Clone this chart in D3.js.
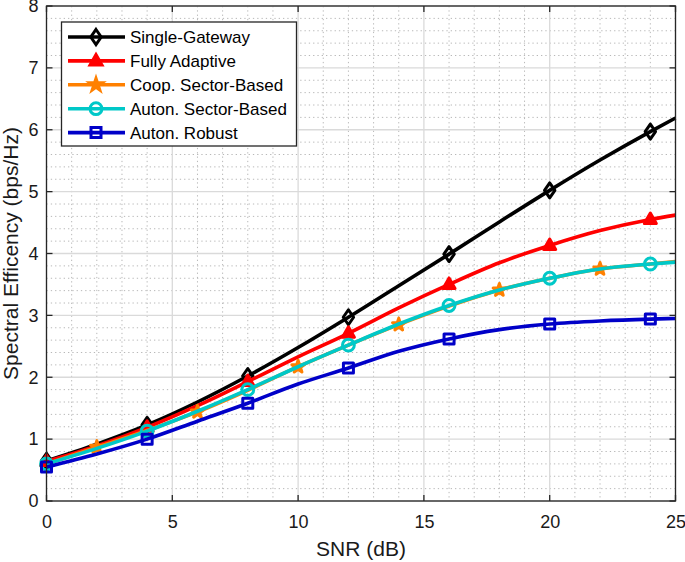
<!DOCTYPE html>
<html><head><meta charset="utf-8">
<script src="https://cdn.jsdelivr.net/npm/d3@7"></script>
<style>body{margin:0;background:#fff}svg{display:block;font-family:"Liberation Sans",Arial,sans-serif}</style>
</head><body><svg id="c" width="685" height="562"></svg>
<script>
const snr = [0,2,4,6,8,10,12,14,16,18,20,22,24,25];
const singleGateway = [0.65,0.92,1.23,1.60,2.02,2.48,2.97,3.48,3.99,4.51,5.02,5.51,5.97,6.19];
const fullyAdaptive = [0.64,0.89,1.19,1.54,1.93,2.33,2.71,3.12,3.50,3.85,4.13,4.37,4.55,4.62];
const coopSector   = [0.60,0.87,1.14,1.44,1.79,2.17,2.52,2.85,3.15,3.41,3.60,3.75,3.83,3.87];
const autonSector  = [0.60,0.85,1.13,1.45,1.80,2.17,2.52,2.86,3.16,3.41,3.60,3.75,3.83,3.86];
const autonRobust  = [0.55,0.76,1.00,1.29,1.58,1.89,2.15,2.42,2.62,2.77,2.86,2.91,2.94,2.95];
const seriesNames = ["Single-Gateway","Fully Adaptive","Coop. Sector-Based","Auton. Sector-Based","Auton. Robust"];
const xTicks = [0,5,10,15,20,25];
const yTicks = [0,1,2,3,4,5,6,7,8];

const series = [
  {name:seriesNames[0], values:singleGateway, color:"#000000", marker:"diamond", phase:0},
  {name:seriesNames[1], values:fullyAdaptive, color:"#ff0000", marker:"triangle", phase:0},
  {name:seriesNames[2], values:coopSector,   color:"#ff8000", marker:"star", phase:2},
  {name:seriesNames[3], values:autonSector,  color:"#00c8c8", marker:"circle", phase:0},
  {name:seriesNames[4], values:autonRobust,  color:"#0000c8", marker:"square", phase:0}
];

const svg = d3.select("#c");
const L=46.5, R=675.5, T=6, B=501;
const x = d3.scaleLinear().domain([0,25]).range([L,R]);
const y = d3.scaleLinear().domain([0,8]).range([B,T]);

// minor grid
const g = svg.append("g");
d3.range(0,25.01,1).filter(v=>v%5!==0).forEach(v=>{
  g.append("line").attr("x1",x(v)).attr("x2",x(v)).attr("y1",T).attr("y2",B)
   .attr("stroke","#b8b8b8").attr("stroke-width",1).attr("stroke-dasharray","1.3,3");
});
d3.range(0,40).map(i=>i*0.2).filter((v,i)=>i%5!==0).forEach(v=>{
  g.append("line").attr("x1",L).attr("x2",R).attr("y1",y(v)).attr("y2",y(v))
   .attr("stroke","#b8b8b8").attr("stroke-width",1).attr("stroke-dasharray","1.3,3");
});
// major grid
xTicks.forEach(v=>g.append("line").attr("x1",x(v)).attr("x2",x(v)).attr("y1",T).attr("y2",B).attr("stroke","#dadada").attr("stroke-width",1.3));
yTicks.forEach(v=>g.append("line").attr("x1",L).attr("x2",R).attr("y1",y(v)).attr("y2",y(v)).attr("stroke","#dadada").attr("stroke-width",1.3));

// axes
const ax = svg.append("g").attr("transform",`translate(0,${B})`)
  .call(d3.axisBottom(x).tickValues(xTicks).tickSize(0).tickPadding(14).tickFormat(d3.format("d")));
const ay = svg.append("g").attr("transform",`translate(${L},0)`)
  .call(d3.axisLeft(y).tickValues(yTicks).tickSize(0).tickPadding(8).tickFormat(d3.format("d")));
[ax,ay].forEach(a=>{a.select(".domain").remove(); a.selectAll("text").attr("font-size",18).attr("fill","#1a1a1a").attr("font-family","Liberation Sans, Arial, sans-serif");});

// inner ticks
const tk = svg.append("g").attr("stroke","#262626").attr("stroke-width",1.3);
xTicks.forEach(v=>{tk.append("line").attr("x1",x(v)).attr("x2",x(v)).attr("y1",B).attr("y2",B-6);
  tk.append("line").attr("x1",x(v)).attr("x2",x(v)).attr("y1",T).attr("y2",T+6);});
yTicks.forEach(v=>{tk.append("line").attr("x1",L).attr("x2",L+6).attr("y1",y(v)).attr("y2",y(v));
  tk.append("line").attr("x1",R).attr("x2",R-6).attr("y1",y(v)).attr("y2",y(v));});

// marker shapes
function markerPath(type){
  switch(type){
    case "diamond": return "M0,-7.5L5.2,0L0,7.5L-5.2,0Z";
    case "triangle": return "M0,-6.5L6,4L-6,4Z";
    case "square": return "M-5,-5L5,-5L5,5L-5,5Z";
    case "circle": return d3.symbol().type(d3.symbolCircle).size(110)();
    case "star": return d3.symbol().type(d3.symbolStar).size(48)();
  }
}

const line = d3.line().x((d,i)=>x(snr[i])).y(d=>y(d)).curve(d3.curveMonotoneX);
const plot = svg.append("g");
series.forEach(s=>{
  plot.append("path").attr("d",line(s.values)).attr("fill","none")
    .attr("stroke",s.color).attr("stroke-width",3.6).attr("stroke-linejoin","round");
  const pts = snr.map((v,i)=>({v,i})).filter(p=>p.v<25 && p.v%4===s.phase);
  plot.selectAll(null).data(pts).enter().append("path")
    .attr("d",markerPath(s.marker))
    .attr("transform",p=>`translate(${x(snr[p.i])},${y(s.values[p.i])})`)
    .attr("fill",s.marker==="star"||s.marker==="triangle"?s.color:"none")
    .attr("stroke",s.color).attr("stroke-width",3).attr("stroke-linejoin","round");
});

// box
svg.append("rect").attr("x",L).attr("y",T).attr("width",R-L).attr("height",B-T)
  .attr("fill","none").attr("stroke","#262626").attr("stroke-width",1.3);

// legend
const lg = svg.append("g");
lg.append("rect").attr("x",61.5).attr("y",22).attr("width",235).attr("height",124)
  .attr("fill","#fff").attr("stroke","#262626").attr("stroke-width",1.3);
series.forEach((s,i)=>{
  const yy = 37 + i*23.9;
  lg.append("line").attr("x1",68).attr("x2",125).attr("y1",yy).attr("y2",yy)
    .attr("stroke",s.color).attr("stroke-width",3.6);
  lg.append("path").attr("d",markerPath(s.marker)).attr("transform",`translate(96,${yy})`)
    .attr("fill",s.marker==="star"||s.marker==="triangle"?s.color:"none")
    .attr("stroke",s.color).attr("stroke-width",3);
  lg.append("text").attr("x",130).attr("y",yy+6).attr("font-size",17).attr("fill","#000").text(s.name);
});

// labels
svg.append("text").attr("x",x(12.5)).attr("y",556).attr("text-anchor","middle")
  .attr("font-size",21).attr("fill","#1a1a1a").text("SNR (dB)");
svg.append("text").attr("transform",`translate(17.5,${(T+B)/2}) rotate(-90)`).attr("text-anchor","middle")
  .attr("font-size",21).attr("fill","#1a1a1a").text("Spectral Efficency (bps/Hz)");
</script></body></html>
